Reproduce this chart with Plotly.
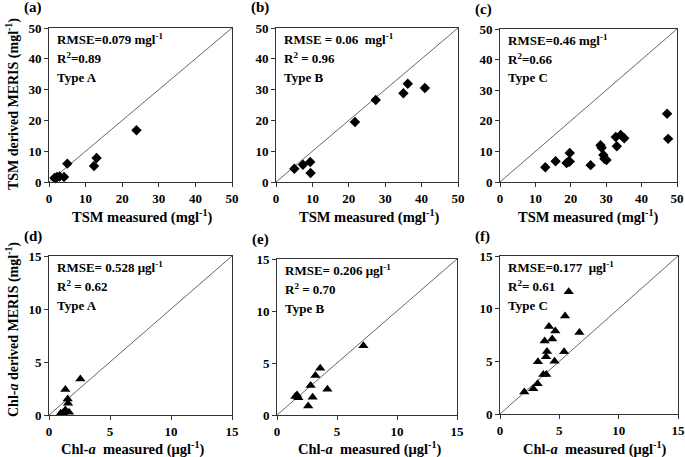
import plotly.graph_objects as go

# ---- data ----
a_x = [1.5, 1.8, 2.2, 2.9, 4.1, 5.0, 12.3, 13.0, 23.9]
a_y = [1.3, 1.2, 1.6, 1.8, 1.6, 5.95, 5.2, 7.8, 16.8]
b_x = [5.05, 7.4, 9.4, 9.5, 21.7, 27.4, 35.0, 36.2, 40.9]
b_y = [4.3, 5.6, 6.5, 2.9, 19.5, 26.6, 28.8, 31.9, 30.5]
c_x = [12.8, 15.7, 18.8, 19.3, 19.7, 19.7, 25.6, 28.4, 28.7, 29.2, 29.5, 30.1, 32.7, 33.0, 34.1, 35.1, 47.2, 47.5]
c_y = [4.8, 6.8, 6.2, 6.6, 9.5, 6.7, 5.5, 12.0, 11.2, 8.8, 7.6, 7.2, 14.7, 11.7, 15.4, 14.3, 22.3, 14.1]
d_x = [0.96, 1.15, 1.34, 1.34, 1.53, 1.56, 1.64, 2.57]
d_y = [0.16, 0.22, 2.4, 0.47, 1.5, 1.1, 0.25, 3.4]
e_x = [1.53, 1.67, 1.78, 2.6, 2.8, 2.97, 3.2, 3.6, 4.2, 7.2]
e_y = [1.77, 1.93, 1.67, 0.87, 2.83, 1.7, 3.8, 4.5, 2.47, 6.65]
f_x = [2.05, 2.8, 3.17, 3.2, 3.65, 3.9, 3.76, 3.88, 3.96, 4.13, 4.4, 4.66, 4.6, 5.4, 5.48, 5.79, 6.69]
f_y = [2.08, 2.4, 2.87, 4.95, 3.75, 3.75, 6.94, 5.43, 5.93, 8.3, 7.13, 7.89, 5.0, 5.9, 9.3, 11.6, 7.73]

tsm_ticks = [0, 10, 20, 30, 40, 50]
chl_ticks = [0, 5, 10, 15]

panel_labels = ["(a)", "(b)", "(c)", "(d)", "(e)", "(f)"]
stats = [
    ["RMSE=0.079 mgl<sup>-1</sup>", "R<sup>2</sup>=0.89", "Type A"],
    ["RMSE = 0.06  mgl<sup>-1</sup>", "R<sup>2</sup> = 0.96", "Type B"],
    ["RMSE=0.46 mgl<sup>-1</sup>", "R<sup>2</sup>=0.66", "Type C"],
    ["RMSE= 0.528 μgl<sup>-1</sup>", "R<sup>2</sup> = 0.62", "Type A"],
    ["RMSE= 0.206 μgl<sup>-1</sup>", "R<sup>2</sup> = 0.70", "Type B"],
    ["RMSE=0.177  μgl<sup>-1</sup>", "R<sup>2</sup>= 0.61", "Type C"],
]
x_titles = ["TSM measured (mgl<sup>-1</sup>)"] * 3 + ["Chl-<i>a</i>  measured (μgl<sup>-1</sup>)"] * 3
y_titles = ["TSM derived MERIS (mgl<sup>-1</sup>)", "", "", "Chl-<i>a</i> derived MERIS (mgl<sup>-1</sup>)", "", ""]

W, H = 685, 457
# pixel boxes: left, right, top, bottom
boxes = [
    (49, 232, 28, 182), (276, 458, 28, 182), (500, 677, 29, 182),
    (49, 232, 256, 415), (277, 457, 259, 415), (500, 678, 256, 414),
]
xtitle_pos = [(142, 217), (369, 217), (588, 217), (132, 448), (369, 448), (594, 448)]
ytitle_pos = [(12, 104), None, None, (12, 330), None, None]

FONT = "Liberation Serif"
fig = go.Figure()
series = [(a_x, a_y), (b_x, b_y), (c_x, c_y), (d_x, d_y), (e_x, e_y), (f_x, f_y)]
annotations = []
for i, ((xs, ys), box) in enumerate(zip(series, boxes)):
    n = i + 1
    xa = "x" if n == 1 else f"x{n}"
    ya = "y" if n == 1 else f"y{n}"
    top_row = i < 3
    vmax = 50 if top_row else 15
    ticks = tsm_ticks if top_row else chl_ticks
    sym = "diamond" if top_row else "triangle-up"
    # 1:1 line
    fig.add_trace(go.Scatter(x=[0, vmax], y=[0, vmax], mode="lines",
                             line=dict(color="#666666", width=1), xaxis=xa, yaxis=ya,
                             showlegend=False, hoverinfo="skip"))
    fig.add_trace(go.Scatter(x=xs, y=ys, mode="markers",
                             marker=dict(symbol=sym, size=8 if top_row else 9, color="black"),
                             xaxis=xa, yaxis=ya, showlegend=False, cliponaxis=False))
    l, r, t, b = box
    axcommon = dict(showline=True, mirror=True, linecolor="#333333", linewidth=1,
                    showgrid=False, zeroline=False, ticks="outside", ticklen=4,
                    tickcolor="#333333", tickvals=ticks, range=[0, vmax],
                    automargin=False,
                    tickfont=dict(family=FONT, size=13, color="black", weight="bold"))
    xkey = "xaxis" if n == 1 else f"xaxis{n}"
    ykey = "yaxis" if n == 1 else f"yaxis{n}"
    fig.update_layout(**{
        xkey: dict(axcommon, domain=[l / W, r / W], anchor=ya),
        ykey: dict(axcommon, domain=[1 - b / H, 1 - t / H], anchor=xa),
    })
    # axis titles
    tx, ty = xtitle_pos[i]
    annotations.append(dict(text="<b>" + x_titles[i] + "</b>", xref="paper", yref="paper",
                            x=tx / W, y=1 - ty / H, xanchor="center", yanchor="middle",
                            showarrow=False, font=dict(family=FONT, size=14.5, color="black")))
    if ytitle_pos[i]:
        px, py = ytitle_pos[i]
        annotations.append(dict(text="<b>" + y_titles[i] + "</b>", xref="paper", yref="paper",
                                x=px / W, y=1 - py / H, xanchor="center", yanchor="middle",
                                textangle=-90, showarrow=False,
                                font=dict(family=FONT, size=14, color="black")))
    # panel label
    annotations.append(dict(text="<b>" + panel_labels[i] + "</b>", xref="paper", yref="paper",
                            x=(l - 27) / W, y=1 - (t - 20) / H, xanchor="left", yanchor="middle",
                            showarrow=False, font=dict(family=FONT, size=15, color="black")))
    # stats text
    for k, line in enumerate(stats[i]):
        annotations.append(dict(text="<b>" + line + "</b>", xref="paper", yref="paper",
                                x=(l + 6) / W, y=1 - (t + 11 + 19 * k) / H,
                                xanchor="left", yanchor="middle", showarrow=False,
                                font=dict(family=FONT, size=13, color="black")))

fig.update_layout(width=W, height=H, margin=dict(l=0, r=0, t=0, b=0, autoexpand=False),
                  paper_bgcolor="white", plot_bgcolor="white",
                  annotations=annotations)
fig.write_html("out.html", config={"displayModeBar": False},
               post_script="document.body.style.margin='0px';document.body.style.overflow='hidden';")
